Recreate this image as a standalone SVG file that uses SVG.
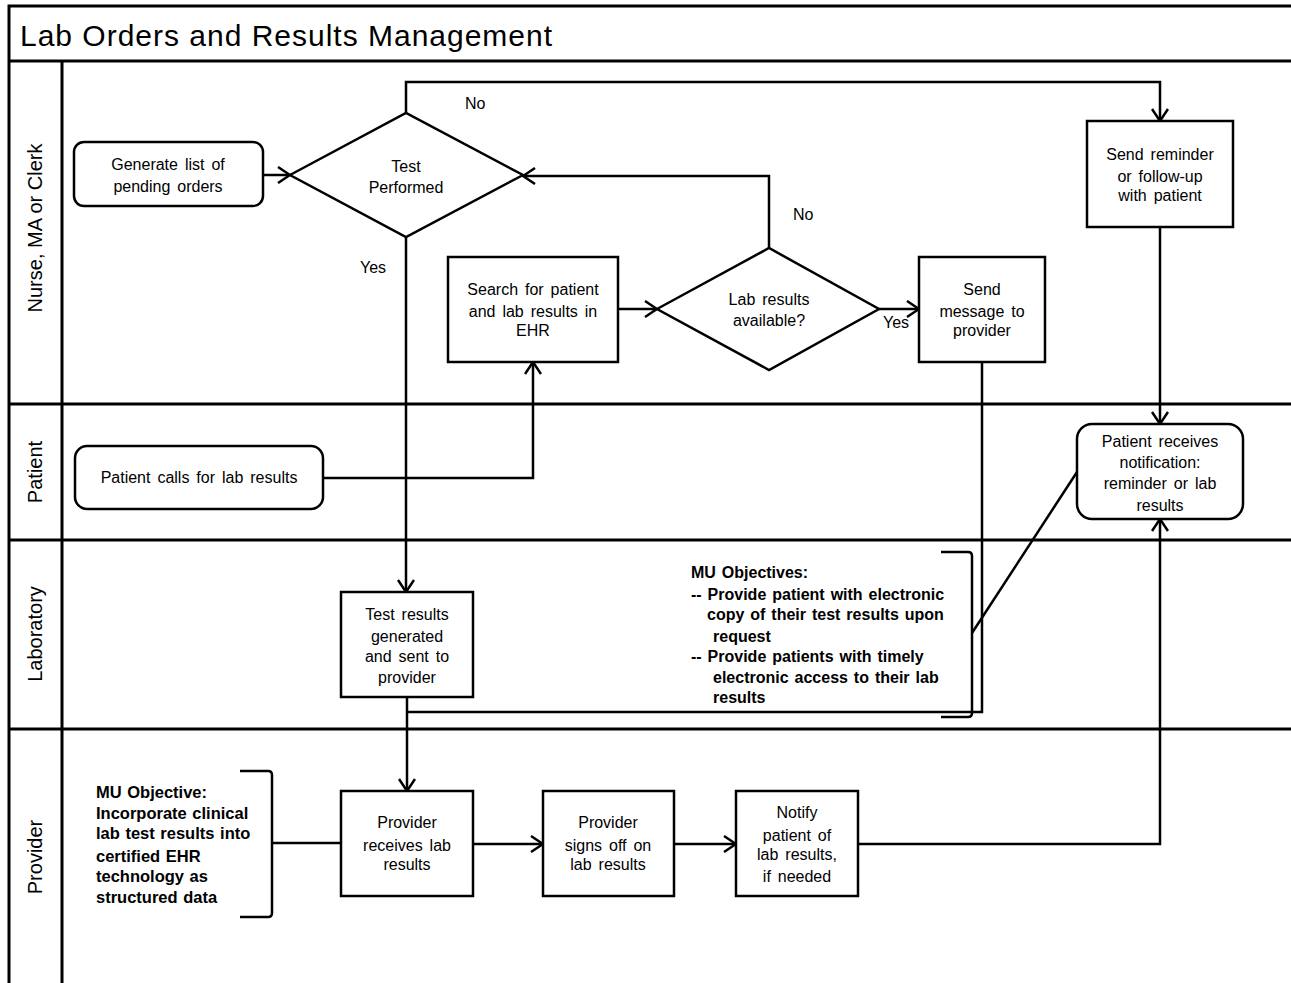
<svg xmlns="http://www.w3.org/2000/svg" width="1291" height="983" viewBox="0 0 1291 983">
<style>
.frame{fill:none;stroke:#000;stroke-width:3}
.lane{stroke:#000;stroke-width:3}
.box{fill:#fff;stroke:#000;stroke-width:2.5}
.conn{fill:none;stroke:#000;stroke-width:2.5}
.t{font-family:"Liberation Sans",Arial,sans-serif;font-size:16px;word-spacing:2.5px;fill:#000;text-anchor:middle}
.lbl{font-family:"Liberation Sans",Arial,sans-serif;font-size:16px;fill:#000}
.lanet{font-family:"Liberation Sans",Arial,sans-serif;font-size:20px;fill:#000;text-anchor:middle}
.mu{font-family:"Liberation Sans",Arial,sans-serif;font-size:16px;font-weight:bold;word-spacing:1.5px;fill:#000}
.mul{font-family:"Liberation Sans",Arial,sans-serif;font-size:16.5px;font-weight:bold;word-spacing:1px;fill:#000}
.title{font-family:"Liberation Sans",Arial,sans-serif;font-size:30px;fill:#000}
</style>
<defs>
<marker id="arr" viewBox="0 0 14 18" refX="13" refY="9" markerWidth="14" markerHeight="18" markerUnits="userSpaceOnUse" orient="auto">
<path d="M1,1 L13,9 L1,17" fill="none" stroke="#000" stroke-width="2.5"/>
</marker>
</defs>
<rect width="1291" height="983" fill="#fff"/>
<g id="pool">
<rect class="frame" x="9" y="6" width="1295" height="990"/>
<line class="lane" x1="9" y1="61" x2="1291" y2="61"/>
<line class="lane" x1="62" y1="61" x2="62" y2="983"/>
<line class="lane" x1="9" y1="404" x2="1291" y2="404"/>
<line class="lane" x1="9" y1="540" x2="1291" y2="540"/>
<line class="lane" x1="9" y1="729" x2="1291" y2="729"/>
<text class="title" x="20" y="46" textLength="532" lengthAdjust="spacing">Lab Orders and Results Management</text>
<text class="lanet" transform="translate(42,228) rotate(-90)">Nurse, MA or Clerk</text>
<text class="lanet" transform="translate(42,472) rotate(-90)">Patient</text>
<text class="lanet" transform="translate(42,634) rotate(-90)">Laboratory</text>
<text class="lanet" transform="translate(42,857) rotate(-90)">Provider</text>
</g>
<g id="connectors">
<path class="conn" d="M263,175 H290" marker-end="url(#arr)"/>
<path class="conn" d="M406,113 V82 H1160 V121" marker-end="url(#arr)"/>
<path class="conn" d="M406,237 V592" marker-end="url(#arr)"/>
<path class="conn" d="M323,478 H533 V362" marker-end="url(#arr)"/>
<path class="conn" d="M618,309 H657" marker-end="url(#arr)"/>
<path class="conn" d="M769,248 V176 H523" marker-end="url(#arr)"/>
<path class="conn" d="M879,309 H919" marker-end="url(#arr)"/>
<path class="conn" d="M982,362 V712 H407"/>
<path class="conn" d="M1160,227 V424" marker-end="url(#arr)"/>
<path class="conn" d="M407,697 V791" marker-end="url(#arr)"/>
<path class="conn" d="M473,844 H543" marker-end="url(#arr)"/>
<path class="conn" d="M674,844 H736" marker-end="url(#arr)"/>
<path class="conn" d="M858,844 H1160 V519" marker-end="url(#arr)"/>
<path class="conn" d="M272,843 H341"/>
<path class="conn" d="M972,633 L1077,472"/>
<text class="lbl" x="465" y="109">No</text>
<text class="lbl" x="360" y="273">Yes</text>
<text class="lbl" x="793" y="220">No</text>
<text class="lbl" x="883" y="328">Yes</text>
</g>
<g id="n-generate">
<rect class="box" x="74" y="142" width="189" height="64" rx="10"/>
<text class="t" x="168" y="170">Generate list of</text>
<text class="t" x="168" y="192">pending orders</text>
</g>
<g id="n-test-performed">
<polygon class="box" points="290,175 406,113 523,175 406,237"/>
<text class="t" x="406" y="172">Test</text>
<text class="t" x="406" y="193">Performed</text>
</g>
<g id="n-search">
<rect class="box" x="448" y="257" width="170" height="105"/>
<text class="t" x="533" y="295">Search for patient</text>
<text class="t" x="533" y="317">and lab results in</text>
<text class="t" x="533" y="336">EHR</text>
</g>
<g id="n-lab-available">
<polygon class="box" points="657,309 769,248 879,309 769,370"/>
<text class="t" x="769" y="305">Lab results</text>
<text class="t" x="769" y="326">available?</text>
</g>
<g id="n-send-message">
<rect class="box" x="919" y="257" width="126" height="105"/>
<text class="t" x="982" y="295">Send</text>
<text class="t" x="982" y="317">message to</text>
<text class="t" x="982" y="336">provider</text>
</g>
<g id="n-send-reminder">
<rect class="box" x="1087" y="121" width="146" height="106"/>
<text class="t" x="1160" y="160">Send reminder</text>
<text class="t" x="1160" y="182">or follow-up</text>
<text class="t" x="1160" y="201">with patient</text>
</g>
<g id="n-patient-calls">
<rect class="box" x="75" y="446" width="248" height="63" rx="12"/>
<text class="t" x="199" y="483">Patient calls for lab results</text>
</g>
<g id="n-patient-receives">
<rect class="box" x="1077" y="424" width="166" height="95" rx="15"/>
<text class="t" x="1160" y="447">Patient receives</text>
<text class="t" x="1160" y="468">notification:</text>
<text class="t" x="1160" y="489">reminder or lab</text>
<text class="t" x="1160" y="511">results</text>
</g>
<g id="n-test-results">
<rect class="box" x="341" y="592" width="132" height="105"/>
<text class="t" x="407" y="620">Test results</text>
<text class="t" x="407" y="642">generated</text>
<text class="t" x="407" y="662">and sent to</text>
<text class="t" x="407" y="683">provider</text>
</g>
<g id="n-mu-objectives-lab">
<path class="conn" d="M941,552 H968 Q972,552 972,556 V713 Q972,717 968,717 H941"/>
<text class="mu" x="691" y="578">MU Objectives:</text>
<text class="mu" x="691" y="600">-- Provide patient with electronic</text>
<text class="mu" x="707" y="620">copy of their test results upon</text>
<text class="mu" x="713" y="642">request</text>
<text class="mu" x="691" y="662">-- Provide patients with timely</text>
<text class="mu" x="713" y="683">electronic access to their lab</text>
<text class="mu" x="713" y="703">results</text>
</g>
<g id="n-mu-objective-provider">
<path class="conn" d="M240,771 H268 Q272,771 272,775 V913 Q272,917 268,917 H240"/>
<text class="mul" x="96" y="798">MU Objective:</text>
<text class="mul" x="96" y="819">Incorporate clinical</text>
<text class="mul" x="96" y="839">lab test results into</text>
<text class="mul" x="96" y="862">certified EHR</text>
<text class="mul" x="96" y="882">technology as</text>
<text class="mul" x="96" y="903">structured data</text>
</g>
<g id="n-provider-receives">
<rect class="box" x="341" y="791" width="132" height="105"/>
<text class="t" x="407" y="828">Provider</text>
<text class="t" x="407" y="851">receives lab</text>
<text class="t" x="407" y="870">results</text>
</g>
<g id="n-provider-signs">
<rect class="box" x="543" y="791" width="131" height="105"/>
<text class="t" x="608" y="828">Provider</text>
<text class="t" x="608" y="851">signs off on</text>
<text class="t" x="608" y="870">lab results</text>
</g>
<g id="n-notify">
<rect class="box" x="736" y="791" width="122" height="105"/>
<text class="t" x="797" y="818">Notify</text>
<text class="t" x="797" y="841">patient of</text>
<text class="t" x="797" y="860">lab results,</text>
<text class="t" x="797" y="882">if needed</text>
</g>
</svg>
